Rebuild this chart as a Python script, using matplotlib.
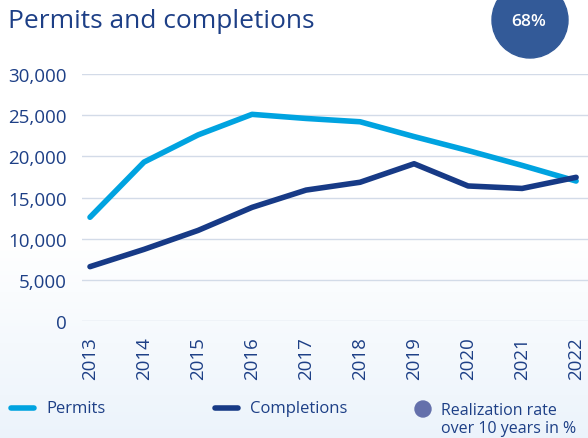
import numpy as np
import matplotlib.pyplot as plt
from matplotlib.patches import Circle
from matplotlib.lines import Line2D

plt.rcParams['font.family'] = ['Open Sans', 'DejaVu Sans']

years = ['2013', '2014', '2015', '2016', '2017', '2018', '2019', '2020', '2021', '2022']
permits = [12600, 19300, 22600, 25100, 24600, 24200, 22400, 20700, 18900, 17000]
completions = [6600, 8700, 11000, 13800, 15900, 16850, 19100, 16400, 16100, 17450]
rate_label = '68%'
yticks = [0, 5000, 10000, 15000, 20000, 25000, 30000]

c_perm = '#00a3e0'
c_comp = '#173a86'
c_text = '#1d3f86'
c_grid = '#d3dbe8'

fig = plt.figure(figsize=(5.88, 4.39), dpi=100)

# background gradient: white on top, pale blue near the bottom
bg = fig.add_axes([0, 0, 1, 1], zorder=-10)
t = np.linspace(0, 1, 256)
g = np.clip((t - 0.55) / 0.45, 0, 1)
top = np.array([1.0, 1.0, 1.0])
bot = np.array([0.925, 0.955, 0.985])
col = top[None, :] * (1 - g[:, None]) + bot[None, :] * g[:, None]
bg.imshow(col[:, None, :], aspect='auto', extent=[0, 1, 0, 1])
bg.axis('off')

ax = fig.add_axes([82 / 588, 1 - 322 / 439, 1 - 82 / 588, (322 - 75) / 439])
ax.patch.set_alpha(0)
x = np.arange(len(years))
ax.plot(x, permits, color=c_perm, lw=4, solid_capstyle='round', solid_joinstyle='round', zorder=3)
ax.plot(x, completions, color=c_comp, lw=4, solid_capstyle='round', solid_joinstyle='round', zorder=3)

ax.set_ylim(0, 30000)
ax.set_xlim(-0.148, 9.22)
ax.set_yticks(yticks)
ax.set_yticklabels([f'{v:,}' for v in yticks], fontsize=13.5, color=c_text)
ax.set_xticks(x)
ax.set_xticklabels(years, rotation=90, fontsize=13.5, color=c_text)
ax.tick_params(length=0)
ax.tick_params(axis='y', pad=11)
ax.tick_params(axis='x', pad=11)
ax.grid(axis='y', color=c_grid, lw=1)
ax.set_axisbelow(True)
for s in ax.spines.values():
    s.set_visible(False)

fig.text(8 / 588, 1 - 22 / 439, 'Permits and completions', fontsize=19, color=c_text,
         va='center', ha='left')

# realization rate bubble
circ = Circle((530 / 100, 4.39 - 21 / 100), 0.38, transform=fig.dpi_scale_trans,
              color='#335a98', clip_on=False, zorder=5)
fig.patches.append(circ)
fig.text(529 / 588, 1 - 22 / 439, rate_label, fontsize=12.5, color='white',
         weight='semibold', ha='center', va='center', zorder=6)

# legend
ly = 1 - 409 / 439
fig.lines.append(Line2D([11 / 588, 34 / 588], [ly, ly], color=c_perm, lw=4,
                        solid_capstyle='round', transform=fig.transFigure))
fig.text(46 / 588, ly, 'Permits', fontsize=12, color=c_text, va='center')
fig.lines.append(Line2D([215 / 588, 238 / 588], [ly, ly], color=c_comp, lw=4,
                        solid_capstyle='round', transform=fig.transFigure))
fig.text(250 / 588, ly, 'Completions', fontsize=12, color=c_text, va='center')
dot = Circle((423 / 100, 4.39 - 410 / 100), 0.08, transform=fig.dpi_scale_trans,
             color='#6470ab', clip_on=False)
fig.patches.append(dot)
fig.text(441 / 588, 1 - 420 / 439, 'Realization rate\nover 10 years in %', fontsize=11.5,
         color=c_text, va='center', linespacing=1.15)

fig.savefig('out.png', dpi=100)
